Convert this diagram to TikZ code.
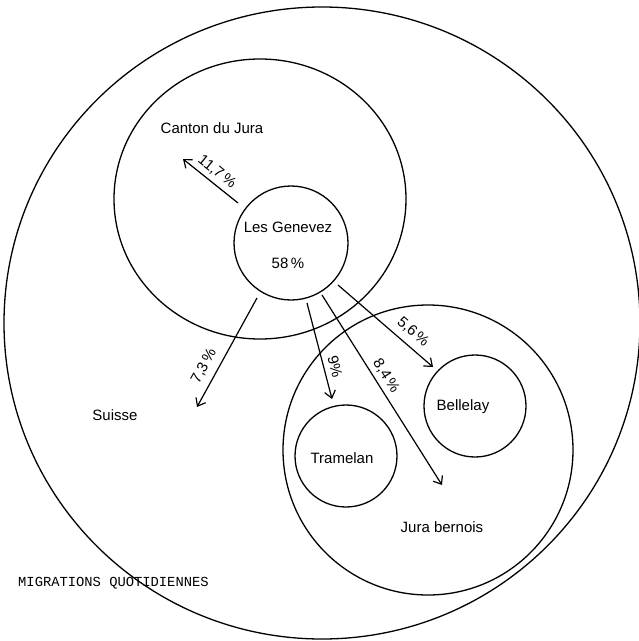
\documentclass[tikz,border=0pt]{standalone}
\usepackage{fontspec}
\setmainfont{Liberation Sans}
\newfontfamily\typew{Liberation Mono}
\usetikzlibrary{arrows.meta,shapes.geometric}
\tikzset{
  ring/.style={circle, draw, line width=1.3pt, inner sep=0pt, minimum size=#1},
  oval/.style 2 args={ellipse, draw, line width=1.3pt, inner sep=0pt, minimum width=#1, minimum height=#2},
  lab/.style={font=\fontsize{15}{17}\selectfont, inner sep=0pt},
  pct/.style={font=\fontsize{15}{17}\selectfont, inner sep=0pt},
  flow/.style={line width=1.2pt, -{Straight Barb[length=7pt,width=11pt,line width=1.2pt]}},
}
\begin{document}
\begin{tikzpicture}[x=1pt,y=-1pt]
\useasboundingbox (0,0) rectangle (639,641);
% regions
\node[oval={636pt}{632pt}] (CH) at (322,323) {};
\node[oval={292pt}{280pt}] (JU) at (260,199) {};
\node[ring=290pt] (JB) at (428,450) {};
\node[ring=102pt] (TR) at (346,456) {};
\node[ring=102pt] (BE) at (475,406) {};
\node[ring=114pt] (LG) at (291,243) {};
% labels
\node[lab] (tJU) at (212,128) {Canton du Jura};
\node[lab] (tCH) at (115,415) {Suisse};
\node[lab] (tJB) at (442,527) {Jura bernois};
\node[lab] (tTR) at (342,458) {Tramelan};
\node[lab] (tBE) at (463,407) {Bellelay};
\node[lab] (tLG) at (288,227) {Les Genevez};
\node[lab] (tLGp) at (288,263) {58\,\%};
\node[anchor=west, inner sep=0pt, font=\typew\fontsize{13.8}{15}\selectfont] (title) at (18,583) {MIGRATIONS QUOTIDIENNES};
% arrow ends
\coordinate (s1) at (238,203); \coordinate (e1) at (183,159);
\coordinate (s2) at (257,298); \coordinate (e2) at (197,407);
\coordinate (s3) at (307,303); \coordinate (e3) at (332,399);
\coordinate (s4) at (322,295); \coordinate (e4) at (442,485);
\coordinate (s5) at (338,285); \coordinate (e5) at (433,367);
\draw[flow] (s1) -- (e1);
\draw[flow] (s2) -- (e2);
\draw[flow] (s3) -- (e3);
\draw[flow] (s4) -- (e4);
\draw[flow] (s5) -- (e5);
% percentages
\node[pct, rotate=-38.7] (p1) at (217,172) {11,7\,\%};
\node[pct, rotate=61.2] (p2) at (204,366) {7,3\,\%};
\node[pct, rotate=-75.4] (p3) at (335,367) {9\%};
\node[pct, rotate=-57.7] (p4) at (386,376) {8,4\,\%};
\node[pct, rotate=-40.8] (p5) at (413,332) {5,6\,\%};
\end{tikzpicture}
\end{document}
